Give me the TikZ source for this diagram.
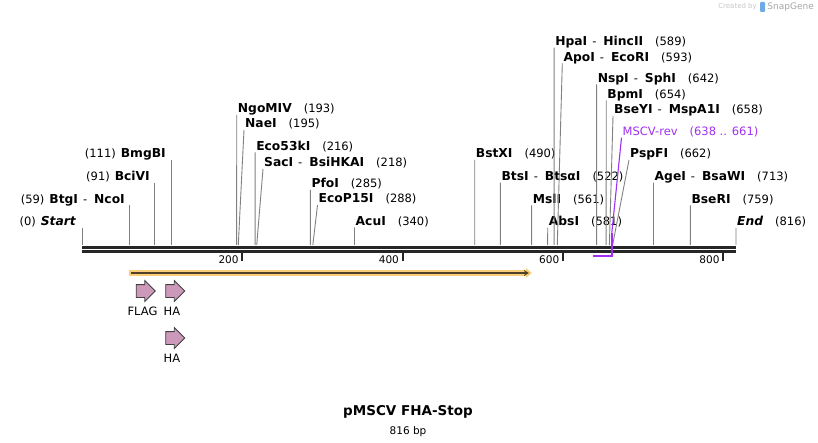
\documentclass[tikz,border=0pt]{standalone}
\usepackage{fontspec}
\setmainfont{DejaVu Sans}
\usepackage{tikz}
\usetikzlibrary{positioning,shapes.arrows,arrows.meta}
\definecolor{cutgray}{RGB}{128,128,128}
\definecolor{seqblack}{RGB}{38,38,38}
\definecolor{primerviolet}{RGB}{160,48,240}
\definecolor{orfband}{RGB}{250,205,120}
\definecolor{orfline}{RGB}{80,64,40}
\definecolor{tagpink}{RGB}{204,153,187}
\definecolor{snapblue}{RGB}{110,170,230}
\newcommand\enz[1]{{\fontsize{12.3}{14}\selectfont\bfseries #1}}
\newcommand\enzpair[2]{\enz{#1}\hspace{5pt}-\hspace{7pt}\enz{#2}}
\newcommand\at[1]{\hspace{12pt}(#1)}
\tikzset{
  site/.style = {anchor=south west, inner sep=1pt, text height=8pt, text depth=1pt,
    font=\fontsize{11.5}{13}\selectfont},
  lsite/.style = {site, anchor=south east},% label left of its line
  cut/.style = {draw=cutgray, line width=0.9pt},
  seqline/.style = {draw=seqblack},
  tick/.style = {draw=seqblack, line width=1.8pt},
  ticklabel/.style = {anchor=east, inner sep=1pt, font=\fontsize{10.5}{12}\selectfont},
  tag/.style = {single arrow, draw=black!75, fill=tagpink, line width=0.8pt,
    inner xsep=0pt, inner ysep=6pt, text height=0pt, text depth=0pt,
    minimum height=19pt, minimum width=20pt, single arrow head extend=4pt},
  taglabel/.style = {inner sep=1pt, text height=8pt, text depth=0pt,
    font=\fontsize{11.5}{13}\selectfont},
  primer/.style = {draw=primerviolet, line width=1.8pt},
}
\begin{document}
\begin{tikzpicture}[x=1pt,y=-1pt]
\useasboundingbox (0,0) rectangle (818,443);
% points on the sequence
\foreach \p in {0,59,91,111,193,195,216,218,285,288,340,490,522,560,561,581,589,593,
  638,642,654,658,661,662,713,759,816}
  \coordinate (c\p) at ({82+0.8015*\p},245);

% backbone and scale
\draw[seqline, line width=3pt] ([yshift=-2.5pt]c0) -- ([yshift=-2.5pt]c816);
\draw[seqline, line width=2.7pt] ([yshift=-6.7pt]c0) -- ([yshift=-6.7pt]c816);
\foreach \t in {200,400,600,800} {
  \draw[tick] ({82+0.8015*\t},253) -- ++(0,8);
  \node[ticklabel] (t\t) at ({82+0.8015*\t-2.5},259.5) {\t};
}

% left labels
\node[lsite] (Start) at (77,227.7) {(0)\hspace{5pt}\enz{\itshape Start}};
\node[lsite] (NcoI) at (126,205.3) {(59)\hspace{5pt}\enzpair{BtgI}{NcoI}};
\node[lsite] (BciVI) at (151,182.7) {(91)\hspace{5pt}\enz{BciVI}};
\node[lsite] (BmgBI) at (167,160) {(111)\hspace{5pt}\enz{BmgBI}};
\draw[cut] (c0 |- Start.south) -- (c0);
\draw[cut] (c59 |- NcoI.south) -- (c59);
\draw[cut] (c91 |- BciVI.south) -- (c91);
\draw[cut] (c111 |- BmgBI.south) -- (c111);

% right labels
\node[site] (NgoMIV) at (236.7,115) {\enz{NgoMIV}\at{193}};
\node[site] (NaeI) at (244,130) {\enz{NaeI}\at{195}};
\node[site] (Eco53kI) at (255.1,152.5) {\enz{Eco53kI}\at{216}};
\node[site] (SacI) at (263,169) {\enzpair{SacI}{BsiHKAI}\at{218}};
\node[site] (PfoI) at (310.4,190) {\enz{PfoI}\at{285}};
\node[site] (EcoP15I) at (317.5,205) {\enz{EcoP15I}\at{288}};
\node[site] (AcuI) at (354.5,227.5) {\enz{AcuI}\at{340}};
\node[site] (BstXI) at (474.7,160) {\enz{BstXI}\at{490}};
\node[site] (BtsI) at (500.4,182.7) {\enzpair{BtsI}{BtsαI}\at{522}};
\node[site] (MslI) at (531.6,205.3) {\enz{MslI}\at{561}};
\node[site] (AbsI) at (547.7,227.7) {\enz{AbsI}\at{581}};
\node[site] (HpaI) at (554.1,47.7) {\enzpair{HpaI}{HincII}\at{589}};
\node[site] (ApoI) at (562.3,63.3) {\enzpair{ApoI}{EcoRI}\at{593}};
\node[site] (NspI) at (596.6,84.3) {\enzpair{NspI}{SphI}\at{642}};
\node[site] (BpmI) at (606.2,100.3) {\enz{BpmI}\at{654}};
\node[site] (BseYI) at (613,116) {\enzpair{BseYI}{MspA1I}\at{658}};
\node[site, text=primerviolet] (MSCV) at (621.5,137.7) {MSCV-rev\at{638 .. 661}};
\node[site] (PspFI) at (629,160) {\enz{PspFI}\at{662}};
\node[site] (AgeI) at (653.5,182.7) {\enzpair{AgeI}{BsaWI}\at{713}};
\node[site] (BseRI) at (690.3,205.3) {\enz{BseRI}\at{759}};
\node[site] (End) at (736,227.7) {\enz{\itshape End}\at{816}};
\draw[cut] (NgoMIV.south west) -- (c193);
\draw[cut] (NaeI.south west) -- (c195);
\draw[cut] (Eco53kI.south west) -- (c216);
\draw[cut] (SacI.south west) -- (c218);
\draw[cut] (PfoI.south west) -- (c285);
\draw[cut] (EcoP15I.south west) -- (c288);
\draw[cut] (AcuI.south west) -- (c340);
\draw[cut] (BstXI.south west) -- (c490);
\draw[cut] (BtsI.south west) -- (c522);
\draw[cut] (MslI.south west) -- (c561);
\draw[cut] (AbsI.south west) -- (c581);
\draw[cut] (HpaI.south west) -- (c589);
\draw[cut] (ApoI.south west) -- (c593);
\draw[cut] (NspI.south west) -- (c642);
\draw[cut] (BpmI.south west) -- (c654);
\draw[cut] (BseYI.south west) -- (c658);
\draw[cut] (PspFI.south west) -- (c662);
\draw[cut] (AgeI.south west) -- (c713);
\draw[cut] (BseRI.south west) -- (c759);
\draw[cut] (End.south west) -- (c816);

% primer
\draw[primerviolet, line width=1.1pt] (MSCV.south west) -- ([yshift=12pt]c661);
\draw[primer] ([yshift=12pt]c661) -- ([yshift=-11pt]c661) -- ([yshift=-11pt]c638);

% ORF
\fill[orfband] ([yshift=-25pt]c59) rectangle ([xshift=-5pt,yshift=-31pt]c560);
\fill[orfband] ([xshift=-5pt,yshift=-23pt]c560) -- ([xshift=1pt,yshift=-28pt]c560)
  -- ([xshift=-5pt,yshift=-33pt]c560) -- cycle;
\draw[orfline, line width=1.6pt, -{Stealth[length=5pt,width=6pt]}]
  ([xshift=2pt,yshift=-28pt]c59) -- ([xshift=-2pt,yshift=-28pt]c560);

% tags
\node[tag] (flag) at (142.5,291) {};
\node[tag] (ha) at (172,291) {};
\node[tag] (ha2) at (172,338) {};
\node[taglabel, below=8pt of flag] (flaglbl) {FLAG};
\node[taglabel, below=8pt of ha] (halbl) {HA};
\node[taglabel, below=8pt of ha2] (ha2lbl) {HA};

% title
\node[font=\fontsize{13.5}{16}\selectfont\bfseries] (title) at (408,412) {pMSCV FHA-Stop};
\node[font=\fontsize{10.5}{12}\selectfont, below=1pt of title] (size) {816 bp};

% watermark
\node[anchor=east, inner sep=0pt, text=black!22, font=\fontsize{7}{9}\selectfont] (credit) at (757,7) {Created by};
\fill[snapblue, rounded corners=1pt] (760,2) rectangle (765,12);
\node[anchor=east, inner sep=0pt, text=black!35, font=\fontsize{9}{11}\selectfont] (snap) at (814,7) {SnapGene};
\end{tikzpicture}
\end{document}
